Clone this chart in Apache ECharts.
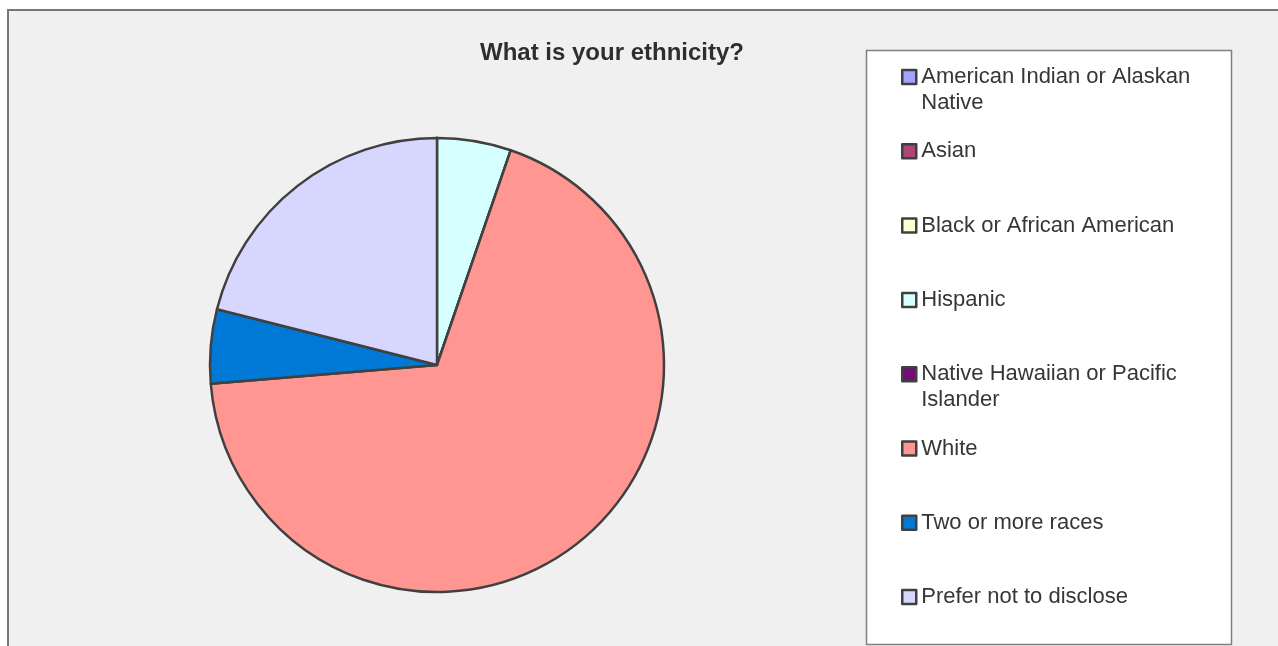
<!DOCTYPE html>
<html>
<head>
<meta charset="utf-8">
<title>What is your ethnicity?</title>
<script src="https://cdn.jsdelivr.net/npm/echarts@6/dist/echarts.min.js"></script>
<style>
  html, body { margin: 0; padding: 0; background: #fff; }
  #chart { width: 1278px; height: 646px; }
</style>
</head>
<body>
<div id="chart"></div>
<script>
// survey answers (counts)
const categories = [
  'American Indian or Alaskan Native',
  'Asian',
  'Black or African American',
  'Hispanic',
  'Native Hawaiian or Pacific Islander',
  'White',
  'Two or more races',
  'Prefer not to disclose'
]
const counts = [0, 0, 0, 1, 0, 13, 1, 4]
const colors = ['#A3A3FF', '#AE4678', '#FFFFD6', '#D6FFFF', '#740D74', '#FF9691', '#0079D6', '#D6D6FF']

const chart = echarts.init(document.getElementById('chart'))

const FONT = '"Liberation Sans", Arial, sans-serif'
const LEGEND_FONT_SIZE = 22
const LINE_H = 26
const TEXT_WIDTH = 300

// measure to know which legend names wrap onto a second line
const ctx = document.createElement('canvas').getContext('2d')
ctx.font = LEGEND_FONT_SIZE + 'px ' + FONT
function isTwoLine(name) {
  return ctx.measureText(name).width > TEXT_WIDTH
}

const firstLineTop = 77
const slot = 74.3

const legends = categories.map((name, i) => {
  const two = isTwoLine(name)
  const center = firstLineTop + i * slot
  return {
    data: [name],
    orient: 'vertical',
    left: 901,
    top: center - (two ? 39 : 13),
    padding: 0,
    icon: 'rect',
    itemWidth: 14,
    itemHeight: 14,
    itemStyle: { borderColor: '#404040', borderWidth: 2.5 },
    // wrapped names get an empty first line so the marker sits on the first text line
    formatter: two ? ' \n{name}' : '{name}',
    textStyle: {
      fontFamily: FONT,
      fontSize: LEGEND_FONT_SIZE,
      lineHeight: LINE_H,
      color: '#363636',
      width: TEXT_WIDTH,
      overflow: 'break'
    }
  }
})

chart.setOption({
  backgroundColor: '#ffffff',
  animation: false,
  color: colors,
  graphic: [
    {
      type: 'rect',
      z: 0,
      shape: { x: 8, y: 10, width: 1400, height: 800 },
      style: { fill: '#F0F0F0', stroke: '#777777', lineWidth: 2 }
    },
    {
      type: 'rect',
      z: 0,
      shape: { x: 866.5, y: 50.5, width: 365, height: 594 },
      style: { fill: '#ffffff', stroke: '#808080', lineWidth: 1.5 }
    }
  ],
  title: {
    text: 'What is your ethnicity?',
    left: 612,
    top: 39,
    textAlign: 'center',
    padding: 0,
    textStyle: {
      fontFamily: FONT,
      fontSize: 24,
      fontWeight: 'bold',
      lineHeight: 28,
      color: '#2e2e2e'
    }
  },
  legend: legends,
  series: [
    {
      name: 'What is your ethnicity?',
      type: 'pie',
      center: [437, 365],
      radius: 227,
      startAngle: 90,
      clockwise: true,
      label: { show: false },
      labelLine: { show: false },
      emphasis: { disabled: true },
      itemStyle: { borderColor: '#404040', borderWidth: 2.5 },
      data: categories.map((name, i) => ({ name: name, value: counts[i] }))
    }
  ]
})
</script>
</body>
</html>
